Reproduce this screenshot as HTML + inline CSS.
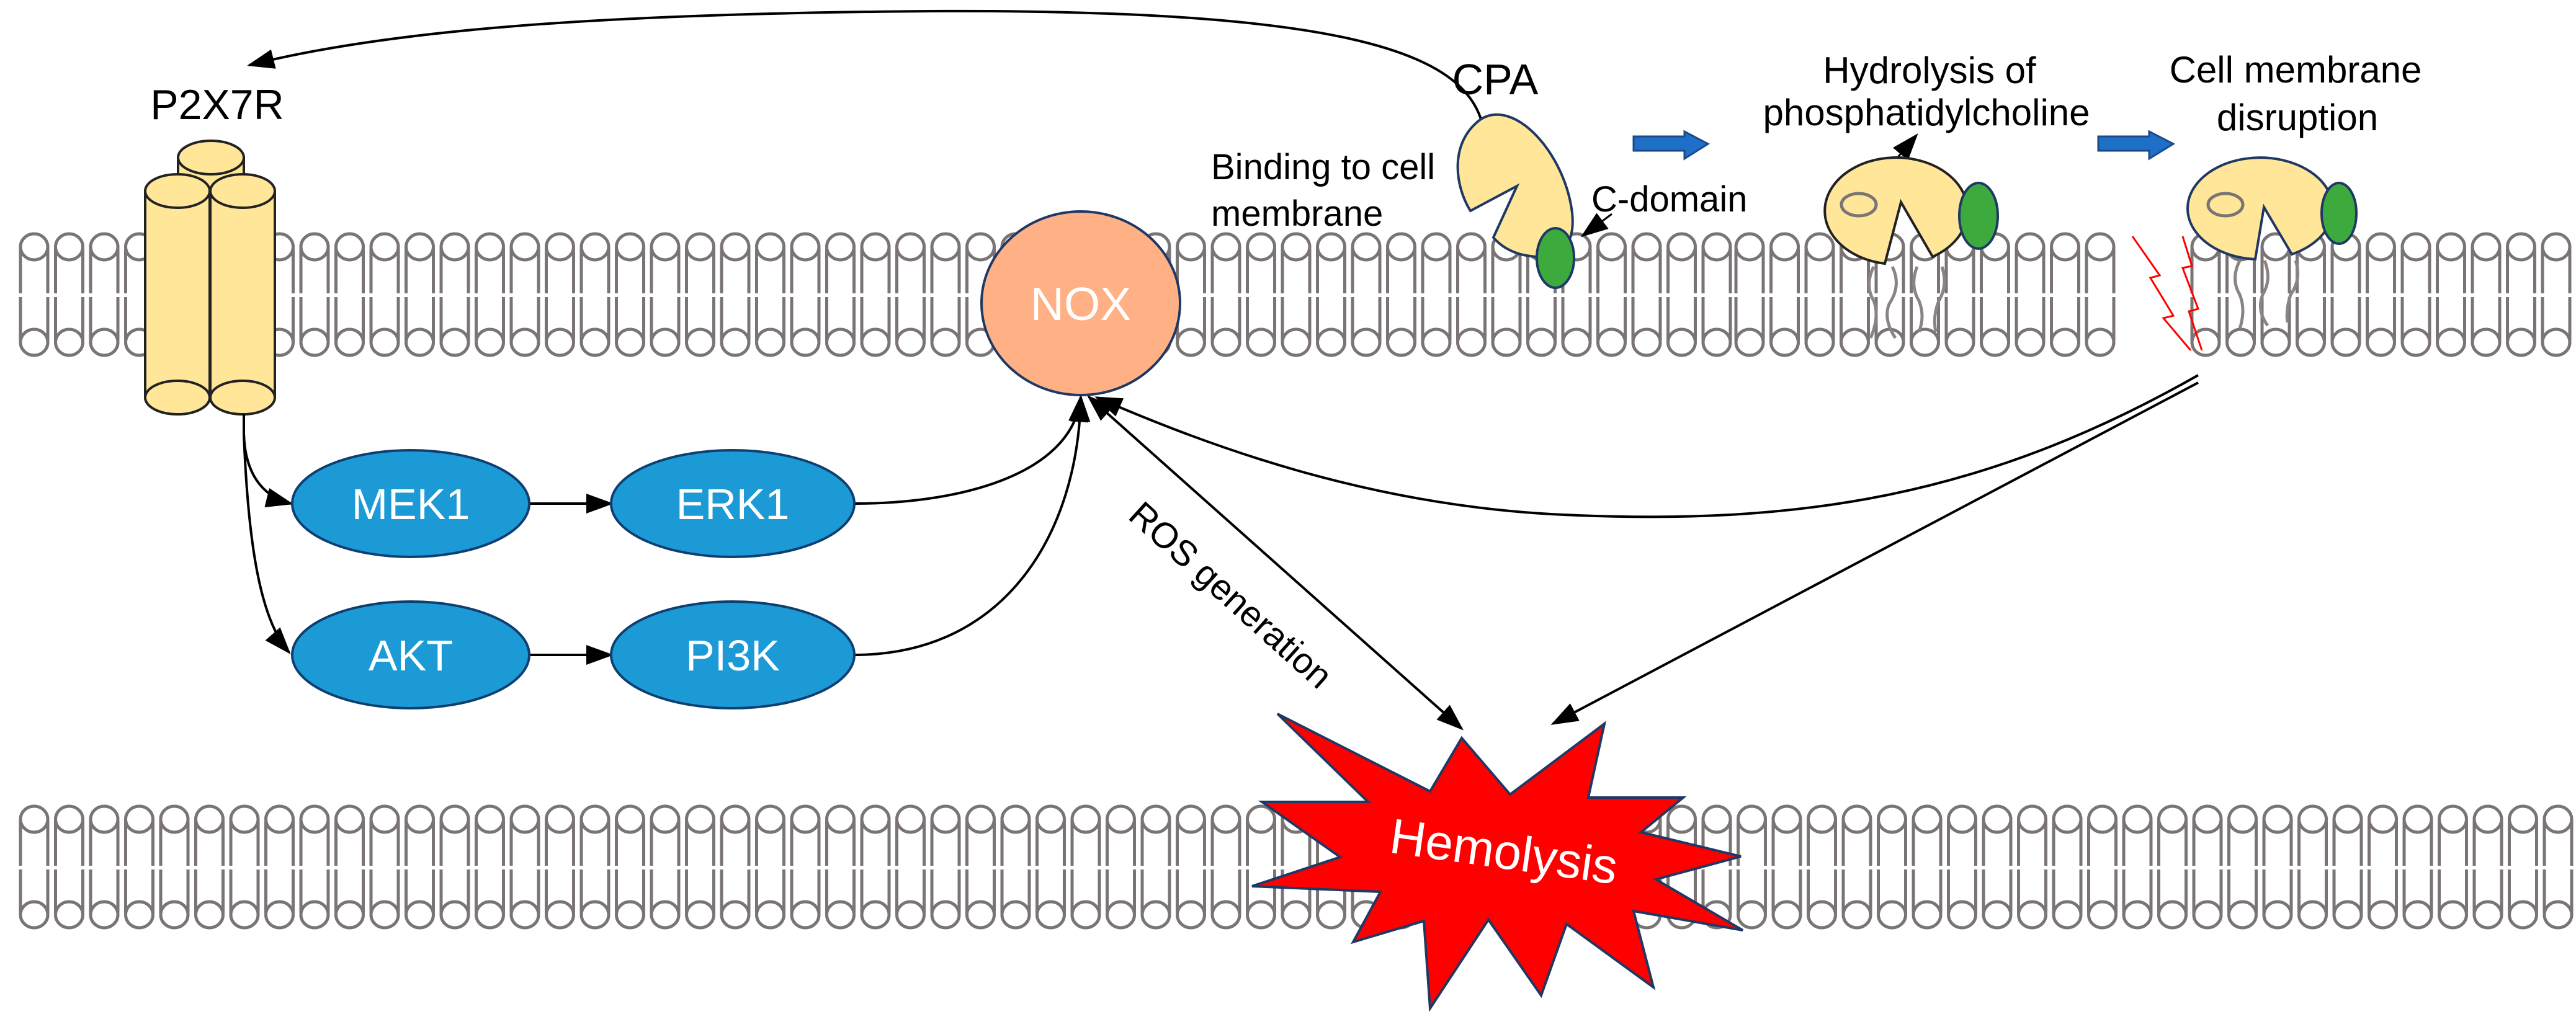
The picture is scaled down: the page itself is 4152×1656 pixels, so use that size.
<!DOCTYPE html>
<html><head><meta charset="utf-8"><style>
html,body{margin:0;padding:0;background:#fff;}
svg{display:block;font-family:"Liberation Sans",Arial,sans-serif;}
</style></head><body>
<svg id="s" width="4152" height="1656" viewBox="0 0 4152 1656" xmlns="http://www.w3.org/2000/svg">
<defs>
<marker id="ah" markerUnits="userSpaceOnUse" markerWidth="44" markerHeight="32" refX="40" refY="16" orient="auto">
<path d="M0,0 L44,16 L0,32 Z" fill="#000"/>
</marker>
<marker id="ahs" markerUnits="userSpaceOnUse" markerWidth="44" markerHeight="32" refX="4" refY="16" orient="auto">
<path d="M44,0 L0,16 L44,32 Z" fill="#000"/>
</marker>
</defs>
<g id="mem" fill="none" stroke="#7a7574" stroke-width="5"></g>

<!-- wavy tails under pacmans -->
<g fill="none" stroke="#8a8584" stroke-width="5">
<path d="M3020,430 q-15,30 0,55 q10,25 -5,60"/>
<path d="M3050,430 q15,30 -5,60 q-10,25 10,55"/>
<path d="M3090,430 q-12,30 3,55 q10,25 0,50"/>
<path d="M3130,430 q10,30 -5,55 q-10,25 -5,50"/>
<path d="M3610,420 q-15,30 0,55 q10,25 0,55"/>
<path d="M3650,420 q12,30 -3,55 q-10,25 8,50"/>
<path d="M3700,420 q10,30 -8,55 q-8,25 -5,45"/>
</g>

<!-- P2X7R -->
<g fill="#FFE699" stroke="#222" stroke-width="4">
<rect x="287" y="254" width="106" height="60"/>
<ellipse cx="340" cy="254" rx="53" ry="27"/>
<path d="M234,308 L234,641 A52,27 0 0,0 338,641 L338,308 Z"/>
<ellipse cx="286" cy="308" rx="52" ry="27"/>
<ellipse cx="286" cy="641" rx="52" ry="27"/>
<path d="M339,308 L339,641 A52,27 0 0,0 443,641 L443,308 Z"/>
<ellipse cx="391" cy="308" rx="52" ry="27"/>
<ellipse cx="391" cy="641" rx="52" ry="27"/>
</g>
<text x="350" y="192" font-size="68" text-anchor="middle">P2X7R</text>

<!-- arrows from P2X7R -->
<g fill="none" stroke="#000" stroke-width="4">
<path d="M393,668 L393,700 C395,760 420,800 469,812" marker-end="url(#ah)"/>
<path d="M393,700 C400,880 420,1000 466,1052" marker-end="url(#ah)"/>
<path d="M853,812 L985,812" marker-end="url(#ah)"/>
<path d="M853,1056 L985,1056" marker-end="url(#ah)"/>
<path d="M1377,812 C1560,812 1730,760 1742,640" marker-end="url(#ah)"/>
<path d="M1377,1056 C1620,1056 1738,860 1742,640" marker-end="url(#ah)"/>
<path d="M2387,192 C2350,80 2150,15 1500,18 C950,22 620,50 402,105" marker-end="url(#ah)"/>
<path d="M3543,605 C3200,800 2900,850 2500,829 C2200,812 1950,720 1768,641" marker-end="url(#ah)"/>
<path d="M3543,617 L2503,1167" marker-end="url(#ah)"/>
<path d="M1755,640 L2356,1175" marker-start="url(#ahs)" marker-end="url(#ah)"/>
<path d="M2598,345 L2551,380" marker-end="url(#ah)" stroke-width="3"/>
<path d="M3027,291 L3089,218" marker-end="url(#ah)" stroke-width="3"/>
</g>

<!-- kinase ellipses -->
<g fill="#1B9AD6" stroke="#0F3F70" stroke-width="4">
<ellipse cx="662" cy="812" rx="191" ry="86"/>
<ellipse cx="1181" cy="812" rx="196" ry="86"/>
<ellipse cx="662" cy="1056" rx="191" ry="86"/>
<ellipse cx="1181" cy="1056" rx="196" ry="86"/>
</g>
<g fill="#fff" font-size="70" text-anchor="middle">
<text x="662" y="837">MEK1</text>
<text x="1181" y="837">ERK1</text>
<text x="662" y="1081">AKT</text>
<text x="1181" y="1081">PI3K</text>
</g>

<!-- NOX -->
<ellipse cx="1742" cy="489" rx="160" ry="148" fill="#FFB185" stroke="#1F3864" stroke-width="4"/>
<text x="1742" y="516" font-size="75" fill="#fff" text-anchor="middle">NOX</text>

<!-- CPA pacman 1 -->
<path d="M2407,383 L2445,300 L2370,340 C2345,300 2335,230 2387,192 C2440,160 2515,240 2532,330 C2545,400 2510,420 2467,413 C2440,410 2420,398 2407,383 Z" fill="#FFE699" stroke="#1F3864" stroke-width="4"/>
<ellipse cx="2507" cy="416" rx="30" ry="48" fill="#3DAA3D" stroke="#1F3864" stroke-width="4"/>
<text x="2410" y="152" font-size="70" text-anchor="middle">CPA</text>
<text x="1952" y="289" font-size="58">Binding  to cell</text>
<text x="1952" y="364" font-size="58">membrane</text>
<text x="2565" y="341" font-size="58">C-domain</text>

<!-- blue arrows -->
<g fill="#1E6FC8" stroke="#1a4a8a" stroke-width="3">
<path d="M2633,220 L2715,220 L2715,212 L2753,232 L2715,256 L2715,243 L2633,243 Z"/>
<path d="M3382,220 L3464,220 L3464,212 L3503,232 L3464,256 L3464,243 L3382,243 Z"/>
</g>

<!-- pacman 2 -->
<path d="M3115,414 L3064,326 L3038,425 A115,86 0 1,1 3115,414 Z" fill="#FFE699" stroke="#222" stroke-width="4"/>
<ellipse cx="2996" cy="330" rx="28" ry="18" fill="none" stroke="#7a7574" stroke-width="5"/>
<ellipse cx="3189" cy="348" rx="31" ry="53" fill="#3DAA3D" stroke="#1F3864" stroke-width="4"/>
<text x="3110" y="134" font-size="60" text-anchor="middle">Hydrolysis of</text>
<text x="3105" y="202" font-size="60" text-anchor="middle">phosphatidylcholine</text>

<!-- pacman 3 -->
<path d="M3694,410 L3649,334 L3635,418 A117,82 0 1,1 3694,410 Z" fill="#FFE699" stroke="#1F3864" stroke-width="4"/>
<ellipse cx="3587" cy="330" rx="28" ry="18" fill="none" stroke="#7a7574" stroke-width="5"/>
<ellipse cx="3770" cy="344" rx="28" ry="49" fill="#3DAA3D" stroke="#1F3864" stroke-width="4"/>
<text x="3700" y="133" font-size="60" text-anchor="middle">Cell membrane</text>
<text x="3703" y="210" font-size="60" text-anchor="middle">disruption</text>

<!-- lightning -->
<g fill="none" stroke="#ff0000" stroke-width="3">
<polyline points="3437,381 3481,444 3466,448 3503,509 3487,513 3531,565"/>
<polyline points="3518,381 3533,429 3518,432 3543,498 3528,502 3549,565"/>
</g>

<!-- ROS label -->
<text transform="translate(1816,835) rotate(42)" font-size="58">ROS generation</text>

<!-- Hemolysis star -->
<polygon points="2059,1151 2305,1276 2356,1190 2434,1281 2586,1167 2560,1286 2713,1286 2645,1342 2806,1381 2669,1418 2809,1500 2633,1469 2665,1592 2525,1490 2484,1605 2399,1483 2305,1626 2295,1485 2181,1519 2225,1438 2018,1429 2160,1382 2034,1293 2205,1293" fill="#ff0000" stroke="#1F3864" stroke-width="4"/>
<text transform="translate(2420,1400) rotate(8)" font-size="80" fill="#fff" text-anchor="middle">Hemolysis</text>
</svg>
<script>
(function(){
var g=document.getElementById('mem');var ns='http://www.w3.org/2000/svg';var d='';
function lip(cx,y0){
 d+='M'+(cx-22)+','+(y0+21)+' a22,21 0 1,1 44,0 a22,21 0 1,1 -44,0 ';
 d+='M'+(cx-22)+','+(y0+24)+' L'+(cx-22)+','+(y0+96)+' M'+(cx+22)+','+(y0+24)+' L'+(cx+22)+','+(y0+96)+' ';
 d+='M'+(cx-22)+','+(y0+102)+' L'+(cx-22)+','+(y0+172)+' M'+(cx+22)+','+(y0+102)+' L'+(cx+22)+','+(y0+172)+' ';
 d+='M'+(cx-22)+','+(y0+175)+' a22,21 0 1,1 44,0 a22,21 0 1,1 -44,0 ';
}
function seg(a,b,y0,sp){for(var x=a;x<=b;x+=sp)lip(x,y0);}
seg(55,2770,377,56.5);
seg(2820,3430,377,56.5);
seg(3555,4130,377,56.5);
seg(55,4130,1300,56.5);
var p=document.createElementNS(ns,'path');p.setAttribute('d',d);g.appendChild(p);
})();
</script>
</body></html>
